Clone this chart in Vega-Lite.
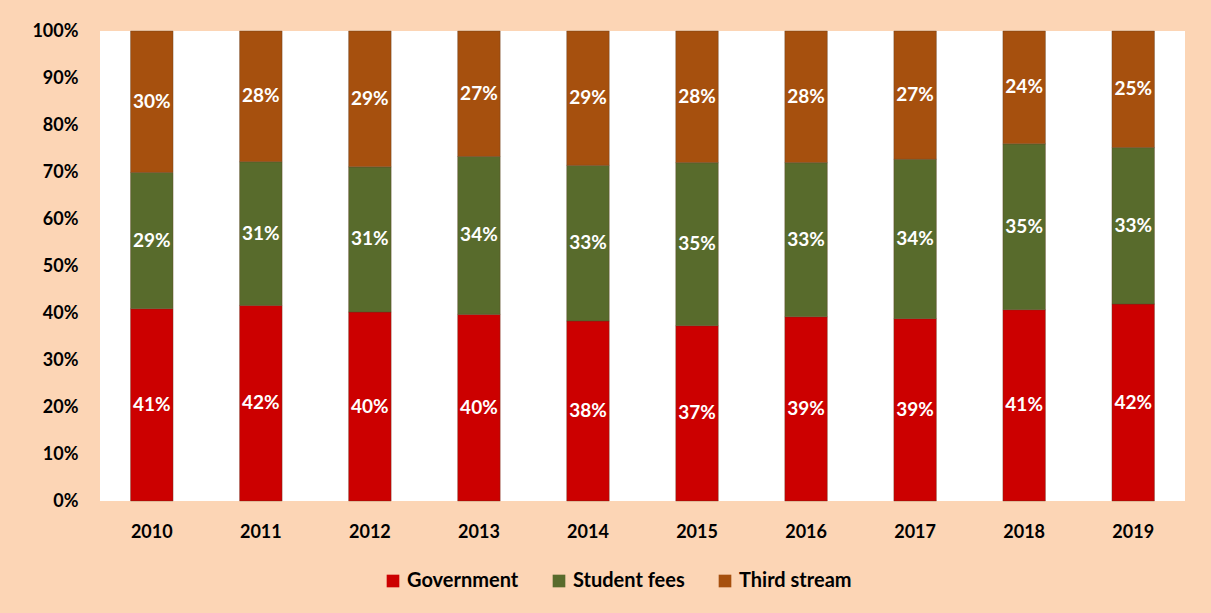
{
  "$schema": "https://vega.github.io/schema/vega-lite/v6.json",
  "autosize": "none",
  "width": 1085,
  "height": 470,
  "padding": {"left": 100, "top": 31, "right": 26, "bottom": 112},
  "background": "#FCD5B5",
  "config": {
    "view": {"fill": "white", "stroke": null},
    "font": "Lato"
  },
  "data": {
    "values": [
      {"year": "2010", "source": "Government", "o": 1, "share": 0.409},
      {"year": "2010", "source": "Student fees", "o": 2, "share": 0.290},
      {"year": "2010", "source": "Third stream", "o": 3, "share": 0.301},
      {"year": "2011", "source": "Government", "o": 1, "share": 0.416},
      {"year": "2011", "source": "Student fees", "o": 2, "share": 0.306},
      {"year": "2011", "source": "Third stream", "o": 3, "share": 0.278},
      {"year": "2012", "source": "Government", "o": 1, "share": 0.402},
      {"year": "2012", "source": "Student fees", "o": 2, "share": 0.309},
      {"year": "2012", "source": "Third stream", "o": 3, "share": 0.289},
      {"year": "2013", "source": "Government", "o": 1, "share": 0.397},
      {"year": "2013", "source": "Student fees", "o": 2, "share": 0.336},
      {"year": "2013", "source": "Third stream", "o": 3, "share": 0.267},
      {"year": "2014", "source": "Government", "o": 1, "share": 0.383},
      {"year": "2014", "source": "Student fees", "o": 2, "share": 0.331},
      {"year": "2014", "source": "Third stream", "o": 3, "share": 0.286},
      {"year": "2015", "source": "Government", "o": 1, "share": 0.373},
      {"year": "2015", "source": "Student fees", "o": 2, "share": 0.347},
      {"year": "2015", "source": "Third stream", "o": 3, "share": 0.280},
      {"year": "2016", "source": "Government", "o": 1, "share": 0.392},
      {"year": "2016", "source": "Student fees", "o": 2, "share": 0.328},
      {"year": "2016", "source": "Third stream", "o": 3, "share": 0.280},
      {"year": "2017", "source": "Government", "o": 1, "share": 0.388},
      {"year": "2017", "source": "Student fees", "o": 2, "share": 0.339},
      {"year": "2017", "source": "Third stream", "o": 3, "share": 0.273},
      {"year": "2018", "source": "Government", "o": 1, "share": 0.407},
      {"year": "2018", "source": "Student fees", "o": 2, "share": 0.353},
      {"year": "2018", "source": "Third stream", "o": 3, "share": 0.240},
      {"year": "2019", "source": "Government", "o": 1, "share": 0.419},
      {"year": "2019", "source": "Student fees", "o": 2, "share": 0.333},
      {"year": "2019", "source": "Third stream", "o": 3, "share": 0.248}
    ]
  },
  "transform": [
    {"stack": "share", "groupby": ["year"], "sort": [{"field": "o", "order": "ascending"}], "as": ["s0", "s1"]},
    {"calculate": "(datum.s0 + datum.s1) / 2", "as": "smid"}
  ],
  "encoding": {
    "x": {
      "field": "year",
      "type": "nominal",
      "scale": {"paddingInner": 0.61, "paddingOuter": 0.28},
      "axis": {
        "title": null,
        "labelAngle": 0,
        "labelFont": "Lato",
        "labelFontWeight": "bold",
        "labelFontSize": 18,
        "labelColor": "black",
        "labelPadding": 22,
        "ticks": false,
        "domain": false
      }
    }
  },
  "layer": [
    {
      "mark": {"type": "bar", "stroke": "#5a3a20", "strokeOpacity": 0.35, "strokeWidth": 1},
      "encoding": {
        "y": {
          "field": "s0",
          "type": "quantitative",
          "scale": {"domain": [0, 1]},
          "axis": {
            "title": null,
            "format": ".0%",
            "values": [0, 0.1, 0.2, 0.3, 0.4, 0.5, 0.6, 0.7, 0.8, 0.9, 1.0],
            "labelFont": "Lato",
            "labelFontWeight": "bold",
            "labelFontSize": 18,
            "labelColor": "black",
            "labelPadding": 22,
            "ticks": false,
            "domain": false,
            "grid": false
          }
        },
        "y2": {"field": "s1"},
        "color": {
          "field": "source",
          "type": "nominal",
          "scale": {
            "domain": ["Government", "Student fees", "Third stream"],
            "range": ["#CC0000", "#586B2C", "#A6500E"]
          },
          "legend": {
            "title": null,
            "orient": "none",
            "legendX": 283,
            "legendY": 540,
            "direction": "horizontal",
            "symbolType": "square",
            "symbolSize": 160,
            "symbolStrokeWidth": 0,
            "labelFont": "Lato",
            "labelFontWeight": "bold",
            "labelFontSize": 20,
            "labelColor": "black",
            "labelOffset": 4,
            "columnPadding": 30
          }
        }
      }
    },
    {
      "mark": {"type": "text", "color": "white", "font": "Lato", "fontWeight": "bold", "fontSize": 19, "baseline": "middle"},
      "encoding": {
        "y": {"field": "smid", "type": "quantitative"},
        "text": {"field": "share", "type": "quantitative", "format": ".0%"}
      }
    }
  ]
}
